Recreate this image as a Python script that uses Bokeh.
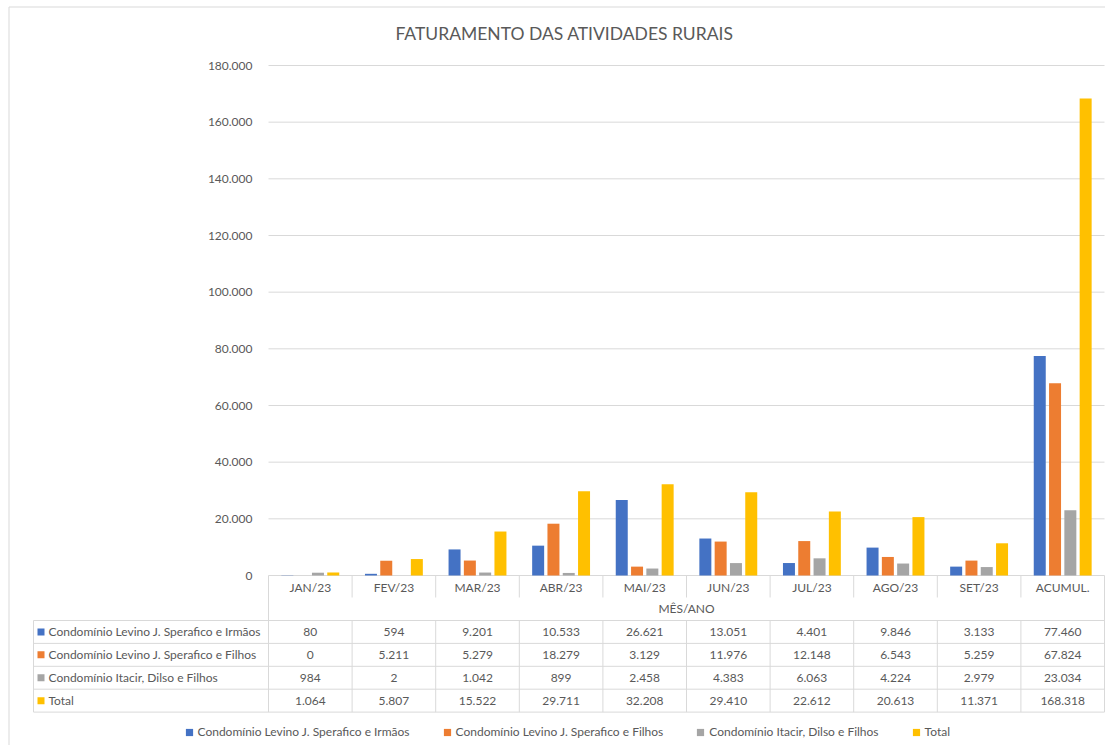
from bokeh.plotting import figure
from bokeh.models import Range1d, Legend, LegendItem, ColumnDataSource
from bokeh.embed import file_html
from bokeh.resources import INLINE
from bokeh.core.properties import value

# ---------------- data ----------------
categories = ["JAN/23", "FEV/23", "MAR/23", "ABR/23", "MAI/23", "JUN/23",
              "JUL/23", "AGO/23", "SET/23", "ACUMUL."]
series_names = ["Condomínio Levino J. Sperafico e Irmãos",
                "Condomínio Levino J. Sperafico e Filhos",
                "Condomínio Itacir, Dilso e Filhos",
                "Total"]
irmaos = [80, 594, 9201, 10533, 26621, 13051, 4401, 9846, 3133, 77460]
filhos = [0, 5211, 5279, 18279, 3129, 11976, 12148, 6543, 5259, 67824]
itacir = [984, 2, 1042, 899, 2458, 4383, 6063, 4224, 2979, 23034]
total = [1064, 5807, 15522, 29711, 32208, 29410, 22612, 20613, 11371, 168318]
y_ticks = [0, 20000, 40000, 60000, 80000, 100000, 120000, 140000, 160000, 180000]
y_max = 180000
chart_title = "FATURAMENTO DAS ATIVIDADES RURAIS"
x_title = "MÊS/ANO"

# ---------------- style ----------------
colors = ["#4472C4", "#ED7D31", "#A5A5A5", "#FFC000"]
FONT = "Lato"
TXT = "#595959"
GRID = "#d9d9d9"


def fmt(v):
    return f"{v:,}".replace(",", ".")


series = [irmaos, filhos, itacir, total]
n = len(categories)

# ---------------- layout geometry (picture pixels) ----------------
OX, OY = 0, 0               # picture position of the figure's top-left corner
W, H = 1105, 745            # figure size
PLOT_L, PLOT_R = 268, 1104  # bar plot area
PLOT_T, PLOT_B = 65, 575
PXC = (PLOT_R - PLOT_L) / n          # pixels per category
KY = y_max / (PLOT_B - PLOT_T)       # value units per pixel


def ux(px):   # picture x -> data x (category units)
    return (px - PLOT_L) / PXC


def uy(py):   # picture y -> data y (value units)
    return (PLOT_B - py) * KY


p = figure(width=W, height=H,
           x_range=Range1d(ux(OX), ux(OX + W)),
           y_range=Range1d(uy(OY + H), uy(OY)),
           x_axis_location=None, y_axis_location=None,
           output_backend="svg", toolbar_location=None, min_border=0)
p.outline_line_color = None
p.grid.visible = False

# chart border (left and top)
p.segment(x0=[ux(8.5), ux(8.5)], y0=[uy(6.5), uy(6.5)],
          x1=[ux(8.5), ux(OX + W)], y1=[uy(OY + H), uy(6.5)],
          line_color=GRID, line_width=1)

# title
p.text(x=[ux(564)], y=[uy(33)], text=[chart_title], text_align="center",
       text_baseline="middle", text_font=value(FONT), text_font_size="17.5px",
       text_color=TXT)

# gridlines + y tick labels (value axis)
p.segment(x0=[0] * len(y_ticks), x1=[n] * len(y_ticks), y0=y_ticks, y1=y_ticks,
          line_color=GRID, line_width=1)
p.text(x=[ux(252)] * len(y_ticks), y=y_ticks, text=[fmt(t) for t in y_ticks],
       text_align="right", text_baseline="middle", text_font=value(FONT),
       text_font_size="12px", text_color=TXT)

# bars
step = 0.183
bw = 0.1435
for k in range(4):
    xs = [i + 0.5 + (k - 1.5) * step for i in range(n)]
    src = ColumnDataSource(dict(x=xs, top=series[k]))
    p.vbar(x="x", top="top", bottom=0, width=bw, source=src,
           fill_color=colors[k], line_color=None)

# ---------------- data table ----------------
hdr_bot = 597
row0 = 620
row_h = 22.9
nrows = len(series)
tbl_bot = row0 + nrows * row_h
left_u = ux(33)

x0, y0, x1, y1 = [], [], [], []
for i in range(n + 1):
    x0.append(i); x1.append(i); y0.append(uy(PLOT_B))
    if i == 0:
        y1.append(uy(row0))
    elif i == n:
        y1.append(uy(tbl_bot))
    else:
        y1.append(uy(hdr_bot))
for r in range(nrows + 1):
    yy = uy(row0 + r * row_h)
    x0.append(left_u); x1.append(n); y0.append(yy); y1.append(yy)
for xx in [left_u] + list(range(n)):
    x0.append(xx); x1.append(xx); y0.append(uy(row0)); y1.append(uy(tbl_bot))
p.segment(x0=x0, y0=y0, x1=x1, y1=y1, line_color=GRID, line_width=1)

cx = [i + 0.5 for i in range(n)]
p.text(x=cx, y=[uy(587)] * n, text=categories, text_align="center",
       text_baseline="middle", text_font=value(FONT), text_font_size="12px",
       text_color=TXT)
p.text(x=[n / 2], y=[uy(608)], text=[x_title], text_align="center",
       text_baseline="middle", text_font=value(FONT), text_font_size="12px",
       text_color=TXT)

markers = []
for r, vals in enumerate(series):
    yc = uy(row0 + (r + 0.5) * row_h)
    p.text(x=cx, y=[yc] * n, text=[fmt(v) for v in vals], text_align="center",
           text_baseline="middle", text_font=value(FONT), text_font_size="12px",
           text_color=TXT)
    m = p.scatter(x=[ux(40.5)], y=[yc], marker="square", size=7,
                  fill_color=colors[r], line_color=None)
    markers.append(m)
    p.text(x=[ux(48)], y=[yc], text=[series_names[r]],
           text_align="left", text_baseline="middle", text_font=value(FONT),
           text_font_size="12px", text_color=TXT)

# legend
items = [LegendItem(label=series_names[k], renderers=[markers[k]]) for k in range(4)]
legend = Legend(items=items, orientation="horizontal",
                location=(179.5 - OX, OY + H - 740.5),
                glyph_width=18, glyph_height=18, label_standoff=0, spacing=28,
                padding=0, margin=0, border_line_color=None,
                background_fill_alpha=0, label_text_font=FONT,
                label_text_font_size="12px", label_text_color=TXT,
                label_height=18)
p.add_layout(legend)

open("out.html", "w").write(file_html(p, INLINE))
